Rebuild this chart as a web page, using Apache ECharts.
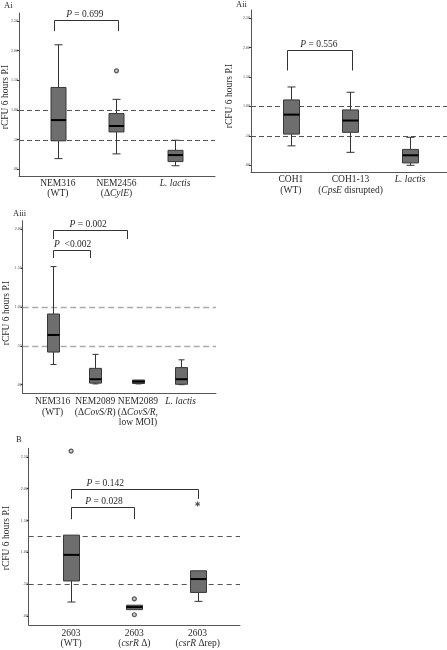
<!DOCTYPE html>
<html><head><meta charset="utf-8">
<script src="https://cdn.jsdelivr.net/npm/echarts@6/dist/echarts.min.js"></script>
<style>html,body{margin:0;padding:0;background:#fff}#c{width:447px;height:650px}</style>
</head><body><div id="c"></div>
<script>
// ---------- DATA ----------
const catsAi   = ['NEM316\n(WT)', 'NEM2456\n(Δ{i|CylE})', '{i|L. lactis}'];
const catsAii  = ['COH1\n(WT)', 'COH1-13\n({i|CpsE} disrupted)', '{i|L. lactis}'];
const catsAiii = ['NEM316\n(WT)', 'NEM2089\n(Δ{i|CovS/R})', 'NEM2089\n(Δ{i|CovS/R},\nlow MOI)', '{i|L. lactis}'];
const catsB    = ['2603\n(WT)', '2603\n({i|csrR} Δ)', '2603\n({i|csrR} Δrep)'];

// [min, Q1, median, Q3, max]
const boxAi   = [[0.18,0.48,0.83,1.38,2.10],[0.26,0.63,0.73,0.94,1.18],[0.06,0.13,0.24,0.32,0.49]];
const boxAii  = [[0.33,0.53,0.86,1.11,1.33],[0.22,0.56,0.76,0.94,1.24],[0.0,0.04,0.17,0.27,0.475]];
const boxAiii = [[0.26,0.42,0.64,0.91,1.52],[0.01,0.02,0.07,0.21,0.39],[0.01,0.015,0.04,0.06,0.06],[0.0,0.005,0.07,0.22,0.32]];
const boxB    = [[0.22,0.55,0.96,1.27,1.27],[0.10,0.10,0.14,0.17,0.17],[0.23,0.37,0.58,0.71,0.71]];

// outliers [category, value]
const outAi = [[1,1.66]];
const outAii = [];
const outAiii = [];
const outB = [[0,2.59],[1,0.27],[1,0.02]];
const extremeB = [[2,1.76]];

// reference lines
const refAi = [1.0, 0.5];
const refAii = [1.0, 0.5];
const refAiii = [1.0, 0.5];
const refB = [1.25, 0.5];

// brackets: [fromCat, toCat, topValue, legValue, labelCat]
const brAi = [[-0.07,1.03,2.51,2.33,0.46]];
const brAiTxt = ['{i|P} = 0.699'];
const brAii = [[-0.06,1.03,1.95,1.61,0.47]];
const brAiiTxt = ['{i|P} = 0.556'];
const brAiii = [[0,1.75,1.99,1.875,0.835],[0,0.875,1.74,1.63,0.47]];
const brAiiiTxt = ['{i|P} = 0.002','{i|P}  <0.002'];
const brB = [[0,2,1.99,1.84,0.54],[0,1,1.71,1.52,0.52]];
const brBTxt = ['{i|P} = 0.142','{i|P} = 0.028'];

// y tick labels
const tickVals5 = [0,0.5,1,1.5,2,2.5];
const tickLbl5 = ['.00','.50','1.00','1.50','2.00','2.50'];
const tickVals4 = [0,0.5,1,1.5,2];
const tickLbl4 = ['.00','.50','1.00','1.50','2.00'];

const yName = 'rCFU 6 hours P.I';

// ---------- CHART ----------
const FF = '"Liberation Serif","Times New Roman",serif';
const TXT = '#2a2a2a';
const FS = 9.5;
const chart = echarts.init(document.getElementById('c'), null, {renderer:'canvas'});

const panels = [
  {grid:{left:19,top:13,width:196,height:163}, x:[-0.662,2.68], y:[-0.113,2.636], cats:catsAi, box:boxAi, out:outAi, ext:[], ref:refAi, br:brAi, brTxt:brAiTxt, tv:tickVals5, tl:tickLbl5, bw:15, cw:8, margin:2, dash:{color:'#555',w:1,d:[5,3]}},
  {grid:{left:251,top:10,width:196,height:162.3}, x:[-0.67,2.62], y:[-0.119,2.637], cats:catsAii, box:boxAii, out:outAii, ext:[], ref:refAii, br:brAii, brTxt:brAiiTxt, tv:tickVals5, tl:tickLbl5, bw:16, cw:8, margin:2, dash:{color:'#555',w:1,d:[5,3]}},
  {grid:{left:22.7,top:220.7,width:193.3,height:172.6}, x:[-0.70,3.83], y:[-0.111,2.111], cats:catsAiii, box:boxAiii, out:outAiii, ext:[], ref:refAiii, br:brAiii, brTxt:brAiiiTxt, tv:tickVals4, tl:tickLbl4, bw:12, cw:6, margin:3, dash:{color:'#aaa',w:1.5,d:[6,3.5]}},
  {grid:{left:28.7,top:448.3,width:211.3,height:176.7}, x:[-0.67,2.67], y:[-0.141,2.633], cats:catsB, box:boxB, out:outB, ext:extremeB, ref:refB, br:brB, brTxt:brBTxt, tv:tickVals5, tl:tickLbl5, bw:16, cw:8, margin:3, dash:{color:'#555',w:1,d:[5,4]}}
];

function boxRender(bw, cw){
  return function(params, api){
    const x = api.value(0);
    const mn = api.value(1), q1 = api.value(2), md = api.value(3), q3 = api.value(4), mx = api.value(5);
    const px = Math.round(api.coord([x, md])[0]) + 0.5;
    const y = v => api.coord([x, v])[1];
    const ls = {stroke:'#333', lineWidth:1};
    const ch = [];
    if (mx > q3) {
      ch.push({type:'line', shape:{x1:px,y1:y(q3),x2:px,y2:y(mx)}, style:ls});
      ch.push({type:'line', shape:{x1:px-cw/2,y1:y(mx),x2:px+cw/2,y2:y(mx)}, style:ls});
    }
    if (mn < q1) {
      ch.push({type:'line', shape:{x1:px,y1:y(q1),x2:px,y2:y(mn)}, style:ls});
      ch.push({type:'line', shape:{x1:px-cw/2,y1:y(mn),x2:px+cw/2,y2:y(mn)}, style:ls});
    }
    ch.push({type:'rect', shape:{x:px-bw/2, y:y(q3), width:bw, height:Math.max(1,y(q1)-y(q3))}, style:{fill:'#6e6e6e', stroke:'#383838', lineWidth:1}});
    ch.push({type:'line', shape:{x1:px-bw/2,y1:y(md),x2:px+bw/2,y2:y(md)}, style:{stroke:'#000', lineWidth:2}});
    return {type:'group', children:ch};
  };
}

function refRender(dash){
  return function(params, api){
    const cs = params.coordSys;
    const yy = Math.round(api.coord([0, api.value(0)])[1]) + 0.5;
    return {type:'line', shape:{x1:cs.x, y1:yy, x2:cs.x+cs.width, y2:yy}, style:{stroke:dash.color, lineWidth:dash.w, lineDash:dash.d}};
  };
}

function brRender(texts){
  return function(params, api){
    const x1 = api.value(0), x2 = api.value(1), top = api.value(2), leg = api.value(3), lx = api.value(4);
    const a = api.coord([x1, leg]), b = api.coord([x1, top]), c = api.coord([x2, top]), d = api.coord([x2, leg]);
    const l = api.coord([lx, top]);
    const yt = Math.round(b[1]) + 0.5;
    return {type:'group', children:[
      {type:'polyline', shape:{points:[[Math.round(a[0])+0.5,a[1]],[Math.round(b[0])+0.5,yt],[Math.round(c[0])+0.5,yt],[Math.round(d[0])+0.5,d[1]]]}, style:{stroke:'#333', lineWidth:1, fill:null}},
      {type:'text', x:l[0], y:yt-1, style:{text:texts[params.dataIndex], fill:TXT, fontSize:FS, fontFamily:FF, align:'center', verticalAlign:'bottom', rich:{i:{fontStyle:'italic', fontSize:FS, fontFamily:FF, fill:TXT}}}}
    ]};
  };
}

const grids = [], xAxes = [], yAxes = [], series = [];
panels.forEach((p, k) => {
  grids.push(Object.assign({containLabel:false}, p.grid));
  xAxes.push({
    type:'value', gridIndex:k, min:p.x[0], max:p.x[1],
    splitLine:{show:false},
    axisLine:{show:true, onZero:false, lineStyle:{color:'#555', width:1}},
    axisTick:{show:false},
    axisLabel:{
      customValues:p.cats.map((c,i)=>i),
      formatter:(v)=>p.cats[Math.round(v)],
      fontSize:FS, fontFamily:FF, color:TXT, lineHeight:10.5, margin:p.margin, align:'center',
      rich:{i:{fontStyle:'italic', fontSize:FS, fontFamily:FF, color:TXT, lineHeight:10.5}}
    }
  });
  yAxes.push({
    type:'value', gridIndex:k, min:p.y[0], max:p.y[1],
    splitLine:{show:false},
    axisLine:{show:true, onZero:false, lineStyle:{color:'#555', width:1}},
    axisTick:{show:true, length:2, customValues:p.tv, lineStyle:{color:'#333'}},
    axisLabel:{customValues:p.tv, formatter:(v)=>{const i=p.tv.indexOf(v); return i>=0?p.tl[i]:'';}, fontSize:4, fontFamily:FF, color:'#444', margin:1}
  });
  series.push({type:'custom', xAxisIndex:k, yAxisIndex:k, silent:true, clip:false, renderItem:refRender(p.dash), data:p.ref.map(v=>[v]), z:1});
  series.push({type:'custom', xAxisIndex:k, yAxisIndex:k, silent:true, clip:false, renderItem:boxRender(p.bw, p.cw), data:p.box.map((b,i)=>[i].concat(b)), z:2});
  series.push({type:'scatter', xAxisIndex:k, yAxisIndex:k, silent:true, symbol:'circle', symbolSize:4, itemStyle:{color:'#bbb', borderColor:'#333', borderWidth:1.2}, data:p.out, z:3});
  if (p.ext.length) series.push({type:'scatter', xAxisIndex:k, yAxisIndex:k, silent:true, symbol:'path://M4,0 H6 V3 L8.6,1.5 L9.6,3.2 L7,4.7 V5.3 L9.6,6.8 L8.6,8.5 L6,7 V10 H4 V7 L1.4,8.5 L0.4,6.8 L3,5.3 V4.7 L0.4,3.2 L1.4,1.5 L4,3 Z', symbolSize:5, itemStyle:{color:'#222'}, data:p.ext, z:3});
  series.push({type:'custom', xAxisIndex:k, yAxisIndex:k, silent:true, clip:false, renderItem:brRender(p.brTxt), data:p.br, z:3});
});

const graphics = [
  {type:'text', left:4, top:1, style:{text:'Ai', fontSize:8.5, fontFamily:FF, fill:TXT}},
  {type:'text', left:236, top:0, style:{text:'Aii', fontSize:8.5, fontFamily:FF, fill:TXT}},
  {type:'text', left:13, top:209, style:{text:'Aiii', fontSize:8.5, fontFamily:FF, fill:TXT}},
  {type:'text', left:16, top:435, style:{text:'B', fontSize:8.5, fontFamily:FF, fill:TXT}},
  {type:'text', x:5, y:97, rotation:Math.PI/2, style:{text:yName, fontSize:9.5, fontFamily:FF, fill:TXT, align:'center', verticalAlign:'middle'}},
  {type:'text', x:229.5, y:96, rotation:Math.PI/2, style:{text:yName, fontSize:9.5, fontFamily:FF, fill:TXT, align:'center', verticalAlign:'middle'}},
  {type:'text', x:6.5, y:313, rotation:Math.PI/2, style:{text:yName, fontSize:9.5, fontFamily:FF, fill:TXT, align:'center', verticalAlign:'middle'}},
  {type:'text', x:6, y:538, rotation:Math.PI/2, style:{text:yName, fontSize:9.5, fontFamily:FF, fill:TXT, align:'center', verticalAlign:'middle'}}
];

chart.setOption({
  animation:false,
  backgroundColor:'#fff',
  grid:grids, xAxis:xAxes, yAxis:yAxes, series:series, graphic:graphics
});
</script>
</body></html>
